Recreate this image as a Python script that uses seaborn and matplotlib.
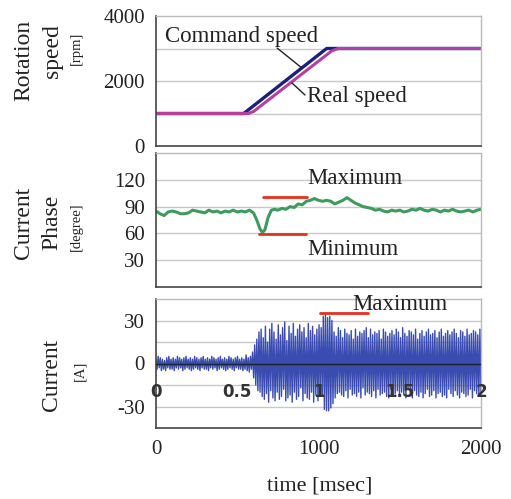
import numpy as np
import pandas as pd
import matplotlib
matplotlib.use("Agg")
import matplotlib.pyplot as plt
import seaborn as sns

# ---------------- data ----------------
cmd_time = [0, 540, 1050, 2000]
cmd_speed = [1000, 1000, 3000, 3000]
real_time = [0, 568, 600, 1080, 1120, 2000]
real_speed = [1000, 1000, 1060, 2920, 3000, 3000]

phase_time = [0, 25, 50, 75, 100, 125, 150, 175, 200, 225, 250, 275, 300, 325, 350, 375,
              400, 425, 450, 475, 500, 525, 550, 575, 600, 620, 640, 655, 670, 690, 710,
              730, 750, 775, 800, 825, 850, 875, 900, 925, 950, 975, 1000, 1025, 1050,
              1075, 1100, 1125, 1150, 1175, 1200, 1225, 1250, 1275, 1300, 1325, 1350,
              1375, 1400, 1425, 1450, 1475, 1500, 1525, 1550, 1575, 1600, 1625, 1650,
              1675, 1700, 1725, 1750, 1775, 1800, 1825, 1850, 1875, 1900, 1925, 1950,
              1975, 2000]
phase_deg = [85, 82, 80, 84, 85, 84, 82, 82, 83, 86, 85, 84, 83, 86, 84, 85,
             83, 85, 84, 86, 84, 85, 84, 86, 83, 75, 65, 61, 64, 78, 86,
             87, 86, 88, 87, 90, 89, 93, 92, 96, 97, 99, 97, 96, 97,
             96, 93, 95, 97, 100, 97, 94, 92, 90, 89, 88, 86,
             87, 85, 84, 86, 85, 86, 84, 85, 87, 86, 88, 86,
             85, 87, 86, 84, 86, 85, 87, 85, 84, 85, 86, 84,
             86, 87]

# current waveform peaks (A), one per half cycle over 0-2000 ms
current_peaks = [
    3, -4, 5, -3, 4, -5, 3, -4, 2, -5, 4, -3, 5, -4, 3, -4, 4, -5, 3, -3,
    5, -4, 4, -3, 3, -5, 4, -4, 5, -3, 3, -4, 4, -5, 3, -4, 5, -3, 4, -4,
    3, -5, 4, -3, 5, -4, 3, -4, 4, -5, 3, -3, 5, -4, 4, -3, 3, -5, 4, -4,
    5, -3, 3, -4, 4, -5, 3, -4, 5, -3, 4, -4, 3, -5, 4, -3, 5, -4, 3, -4,
    4, -5, 3, -4, 6, -5, 4, -6, 5, -4,
    8, -10, 13, -15, 17, -19, 22, -20, 24, -23,
    18, -25, 26, -21, 15, -27, 24, -19, 28, -24, 22, -26, 17, -20, 27, -25,
    20, -23, 25, -18, 29, -26, 16, -24, 26, -22, 21, -27, 28, -20, 19, -25,
    24, -23, 27, -17, 22, -26, 25, -21, 18, -24, 28, -25, 23, -20, 26, -27,
    20, -22, 24, -26, 27, -21, 25, -23,
    33, -32, 34, -33, 32, -33, 33, -31, 30, -28,
    22, -24, 19, -21, 25, -20, 23, -22, 18, -23, 24, -19, 21, -24, 20, -18,
    23, -22, 17, -21, 24, -23, 19, -20, 22, -24, 21, -17, 23, -22, 25, -20,
    18, -21, 24, -23, 20, -19, 22, -24, 21, -18, 23, -22, 17, -21, 24, -20,
    22, -23, 19, -24, 21, -18, 23, -22, 20, -21, 24, -19, 22, -23, 18, -20,
    25, -22, 21, -24, 19, -18, 23, -21, 22, -24, 20, -19, 24, -22, 17, -23,
    21, -20, 23, -24, 19, -21, 22, -18, 24, -23, 20, -22, 21, -19, 23, -24,
    18, -21, 22, -20, 24, -23, 19, -22, 21, -24, 23, -18, 20, -21, 22, -23,
    24, -19, 21, -22, 18, -24, 23, -20, 22, -21, 19, -23, 24, -22, 20, -18,
    21, -24, 23, -19, 22, -21, 20, -23, 24, -22]

inner_ticks = [0, 500, 1000, 1500, 2000]
inner_labels = ["0", "0.5", "1", "1.5", "2"]

# ---------------- style ----------------
sns.set_theme(style="white")
plt.rcParams['font.family'] = ['Liberation Serif', 'DejaVu Serif']
plt.rcParams['axes.unicode_minus'] = False

fig = plt.figure(figsize=(5.11, 4.99), dpi=100)
W, H = 511, 499
def box(l, t, r, b):
    return [l / W, 1 - b / H, (r - l) / W, (b - t) / H]

ax1 = fig.add_axes(box(156, 16, 481, 146))
ax2 = fig.add_axes(box(156, 153, 481, 287))
ax3 = fig.add_axes(box(156, 299, 481, 428))

grid_c = "#c8c8c8"
TXT = "#222222"
for ax in (ax1, ax2, ax3):
    ax.set_facecolor("white")
    for s in ("left", "bottom"):
        ax.spines[s].set_color("#444444")
        ax.spines[s].set_linewidth(1.2)
    for s in ("top", "right"):
        ax.spines[s].set_color("#bbbbbb")
        ax.spines[s].set_linewidth(1.0)
    ax.set_xlim(0, 2000)
    ax.tick_params(axis="both", direction="in", length=4, width=1, colors="#444444",
                   labelsize=15, labelcolor=TXT, pad=8)

# --- top panel ---
for g in (1000, 2000, 3000):
    ax1.axhline(g, color=grid_c, lw=1, zorder=0)
cmd_df = pd.DataFrame({"t": cmd_time, "v": cmd_speed})
real_df = pd.DataFrame({"t": real_time, "v": real_speed})
sns.lineplot(data=cmd_df, x="t", y="v", ax=ax1, color="#1c2178", lw=2.4)
sns.lineplot(data=real_df, x="t", y="v", ax=ax1, color="#b4409e", lw=2.2)
ax1.set_ylim(0, 4000)
ax1.set_yticks([0, 2000, 4000])
ax1.set_yticks([1000, 3000], minor=True)
ax1.tick_params(axis="y", which="minor", direction="in", length=4, colors="#444444")
ax1.set_xticks([0, 500, 1000, 1500, 2000])
ax1.set_xticklabels([])
ax1.set_xlabel("")
ax1.set_ylabel("")
ax1.text(55, 3354, "Command speed", fontsize=16.5, va="center", ha="left", color=TXT)
ax1.text(929, 1508, "Real speed", fontsize=16.5, va="center", ha="left", color=TXT)
ax1.plot([745, 898], [3015, 2400], color=TXT, lw=1)
ax1.plot([837, 917], [1938, 1569], color=TXT, lw=1)

# --- middle panel ---
for g in (30, 60, 90, 120):
    ax2.axhline(g, color=grid_c, lw=1, zorder=0)
ph_df = pd.DataFrame({"t": phase_time, "v": phase_deg})
sns.lineplot(data=ph_df, x="t", y="v", ax=ax2, color="#3e9a5f", lw=2.2)
ax2.set_ylim(0, 150)
ax2.set_yticks([30, 60, 90, 120])
ax2.set_xticks([0, 500, 1000, 1500, 2000])
ax2.set_xticklabels([])
ax2.set_xlabel("")
ax2.set_ylabel("")
ax2.plot([658, 929], [101, 101], color="#e2321e", lw=2)
ax2.plot([634, 923], [59, 59], color="#e2321e", lw=2)
ax2.text(929, 122, "Maximum", fontsize=16.5, va="center", ha="left", color=TXT)
ax2.text(929, 42, "Minimum", fontsize=16.5, va="center", ha="left", color=TXT)

# --- bottom panel ---
for g in (-30, -15, 15, 30):
    ax3.axhline(g, color=grid_c, lw=1, zorder=0)
cur_t = np.linspace(0, 2000, len(current_peaks))
cur_df = pd.DataFrame({"t": cur_t, "v": current_peaks})
sns.lineplot(data=cur_df, x="t", y="v", ax=ax3, color="#3a4cb0", lw=1.0)
ax3.axhline(0, color=TXT, lw=1, zorder=3)
ax3.set_ylim(-45, 45)
ax3.set_yticks([-30, 0, 30])
ax3.set_xticks([0, 1000, 2000])
ax3.tick_params(axis="x", pad=9)
ax3.set_ylabel("")
ax3.set_xlabel("")
ax3.plot([1009, 1305], [35, 35], color="#e2321e", lw=2)
ax3.text(1210, 41, "Maximum", fontsize=16.5, va="center", ha="left", color=TXT)
for xt, lb in zip(inner_ticks, inner_labels):
    ax3.text(xt, -20, lb, fontsize=12, fontweight="bold", ha="center", va="center",
             family="DejaVu Sans", color="#333333", zorder=5)
fig.text(320 / W, 1 - 486 / H, "time [msec]", fontsize=16, ha="center", va="center",
         color=TXT)

# --- y labels ---
def ylab(x, y, s, size):
    fig.text(x / W, 1 - y / H, s, rotation=90, ha="center", va="center",
             fontsize=size, color=TXT)

ylab(24, 60, "Rotation", 17)
ylab(52, 51, "speed", 17)
ylab(76, 48, "[rpm]", 10.5)
ylab(24, 223, "Current", 17)
ylab(52, 222, "Phase", 17)
ylab(76, 227, "[degree]", 10.5)
ylab(52, 375, "Current", 17)
ylab(80, 371, "[A]", 10.5)

fig.savefig("out.png", dpi=100)
